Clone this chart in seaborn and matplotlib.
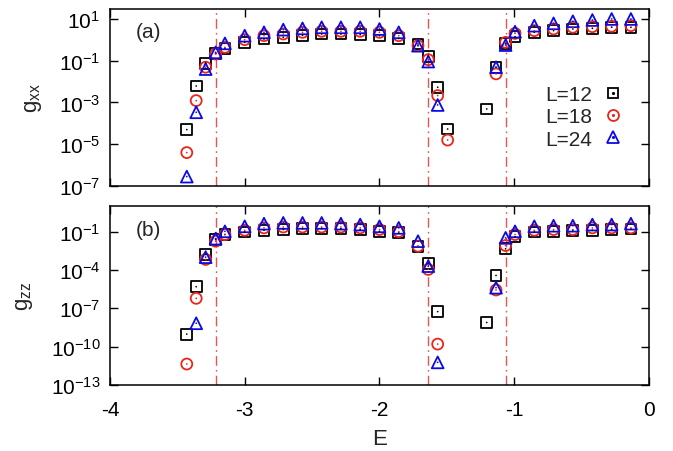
import numpy as np
import pandas as pd
import matplotlib
matplotlib.use("Agg")
import matplotlib.pyplot as plt
import seaborn as sns
from matplotlib.lines import Line2D
from matplotlib.legend_handler import HandlerTuple
from matplotlib.ticker import FixedLocator, LogFormatterSciNotation, NullLocator

# ---------------- data (log10 of g) ----------------
E_top = [-3.43, -3.36, -3.29, -3.216, -3.147, -3.0, -2.857, -2.714, -2.571, -2.429,
         -2.286, -2.143, -2.0, -1.857, -1.714, -1.638, -1.568, -1.494, -1.204, -1.135,
         -1.064, -0.994, -0.851, -0.708, -0.565, -0.42, -0.277, -0.134]
gxx_L12_exp = [-4.30, -2.21, -1.12, -0.64, -0.40, -0.12, 0.04, 0.12, 0.22, 0.28,
               0.28, 0.25, 0.20, 0.07, -0.20, -0.79, -2.27, -4.27, -3.31, -1.31,
               -0.17, 0.15, 0.36, 0.44, 0.52, 0.55, 0.60, 0.60]
gxx_L18_exp = [-5.40, -2.91, -1.31, -0.68, -0.36, 0.01, 0.20, 0.28, 0.36, 0.41,
               0.41, 0.41, 0.36, 0.20, -0.28, -0.95, -2.67, -4.80, np.nan, -1.63,
               -0.12, 0.31, 0.44, 0.52, 0.60, 0.63, 0.65, 0.68]
gxx_L24_exp = [-6.55, -3.47, -1.40, -0.60, -0.17, 0.20, 0.36, 0.49, 0.55, 0.60,
               0.60, 0.60, 0.52, 0.36, -0.28, -1.04, -3.12, np.nan, np.nan, -1.31,
               -0.25, 0.39, 0.68, 0.79, 0.89, 0.95, 1.00, 1.00]

E_bot = [-3.43, -3.36, -3.29, -3.216, -3.147, -3.0, -2.857, -2.714, -2.571, -2.429,
         -2.286, -2.143, -2.0, -1.857, -1.714, -1.638, -1.568, -1.204, -1.135,
         -1.064, -0.994, -0.851, -0.708, -0.565, -0.42, -0.277, -0.134]
gzz_L12_exp = [-9.02, -5.31, -2.79, -1.62, -1.23, -1.03, -0.90, -0.84, -0.77, -0.74,
               -0.77, -0.84, -0.98, -1.10, -2.14, -3.49, -7.26, -8.11, -4.43,
               -2.35, -1.41, -1.03, -0.98, -0.90, -0.90, -0.84, -0.79]
gzz_L18_exp = [-11.36, -6.22, -3.18, -1.75, -1.23, -0.90, -0.71, -0.64, -0.64, -0.64,
               -0.64, -0.71, -0.84, -1.00, -2.14, -3.96, -9.80, np.nan, -5.57,
               -2.09, -1.23, -0.90, -0.84, -0.84, -0.71, -0.71, -0.71]
gzz_L24_exp = [np.nan, -8.17, -3.00, -1.55, -0.98, -0.59, -0.38, -0.32, -0.32, -0.32,
               -0.38, -0.45, -0.59, -0.71, -1.75, -3.70, -11.23, np.nan, -5.39,
               -1.49, -0.98, -0.59, -0.54, -0.54, -0.45, -0.45, -0.38]

E_lines = [-3.216, -1.638, -1.064]
labels = ["L=12", "L=18", "L=24"]
colors = ["black", "#e8261c", "#0a0ae6"]
markers = ["s", "o", "^"]
sizes = [60, 62, 72]

top_yticks = [1e1, 1e-1, 1e-3, 1e-5, 1e-7]
bot_yticks = [1e-1, 1e-4, 1e-7, 1e-10, 1e-13]
xticks = [-4, -3, -2, -1, 0]

# ---------------- style ----------------
sns.set_style("ticks")
plt.rcParams["font.family"] = ["Liberation Sans", "DejaVu Sans"]
plt.rcParams["mathtext.fontset"] = "custom"
plt.rcParams["mathtext.rm"] = "Liberation Sans"
plt.rcParams["mathtext.it"] = "Liberation Sans:italic"

fig = plt.figure(figsize=(6.73, 4.52), dpi=100)
ax1 = fig.add_axes([0.1634, 0.5863, 0.8009, 0.3917])
ax2 = fig.add_axes([0.1634, 0.1460, 0.8009, 0.3960])


def draw(ax, E, series):
    for (exp_vals, lab, col, mk, sz) in zip(series, labels, colors, markers, sizes):
        df = pd.DataFrame({"E": E, "g": 10.0 ** np.array(exp_vals, dtype=float)})
        sns.scatterplot(data=df, x="E", y="g", ax=ax, marker=mk, s=sz,
                        facecolors="none", edgecolor=col, linewidth=1.3,
                        legend=False, zorder=3)
        sns.scatterplot(data=df, x="E", y="g", ax=ax, marker=".", s=6,
                        color=col, edgecolor="none", linewidth=0,
                        legend=False, zorder=4)
    for xv in E_lines:
        ax.axvline(xv, color="#e8413c", lw=1.0, ls=(0, (7, 3, 1.2, 3)), zorder=1, alpha=0.9)
    ax.set_yscale("log")
    ax.set_xlim(-4, 0)
    ax.xaxis.set_major_locator(FixedLocator(xticks))
    ax.xaxis.set_minor_locator(NullLocator())
    ax.yaxis.set_minor_locator(NullLocator())
    ax.tick_params(which="both", direction="in", top=True, right=True,
                   length=6, width=1.0, labelsize=15, colors="black")
    ax.tick_params(axis="x", pad=11)
    ax.tick_params(axis="y", pad=7)
    for sp in ax.spines.values():
        sp.set_linewidth(1.1)
        sp.set_color("black")
    ax.set_xlabel("")


draw(ax1, E_top, [gxx_L12_exp, gxx_L18_exp, gxx_L24_exp])
ax1.set_ylim(10 ** -7, 10 ** 1.48)
ax1.yaxis.set_major_locator(FixedLocator(top_yticks))
ax1.yaxis.set_major_formatter(LogFormatterSciNotation())
ax1.yaxis.set_minor_locator(NullLocator())
ax1.set_xticklabels([])
ax1.set_ylabel(r"g$_\mathregular{xx}$", fontsize=16, labelpad=11)
ax1.text(0.047, 0.87, "(a)", transform=ax1.transAxes, fontsize=15, ha="left", va="center")

draw(ax2, E_bot, [gzz_L12_exp, gzz_L18_exp, gzz_L24_exp])
ax2.set_ylim(1e-13, 1e1)
ax2.yaxis.set_major_locator(FixedLocator(bot_yticks))
ax2.yaxis.set_major_formatter(LogFormatterSciNotation())
ax2.yaxis.set_minor_locator(NullLocator())
ax2.set_xticklabels(["-4", "-3", "-2", "-1", "0"])
ax2.set_xlabel("E", fontsize=16, labelpad=6)
ax2.set_ylabel(r"g$_\mathregular{zz}$", fontsize=16, labelpad=11)
ax2.text(0.047, 0.87, "(b)", transform=ax2.transAxes, fontsize=15, ha="left", va="center")

# legend (text first, marker after, gnuplot-like)
handles = []
for col, mk, sz in zip(colors, markers, sizes):
    h_open = Line2D([], [], ls="none", marker=mk, markersize=np.sqrt(sz),
                    markerfacecolor="none", markeredgecolor=col, markeredgewidth=1.3)
    h_dot = Line2D([], [], ls="none", marker=".", markersize=2.5, color=col)
    handles.append((h_open, h_dot))
ax1.legend(handles, labels, handler_map={tuple: HandlerTuple(ndivide=1)},
           loc="center right", bbox_to_anchor=(0.983, 0.39), frameon=False,
           markerfirst=False, fontsize=15, handletextpad=0.4, labelspacing=0.15,
           handlelength=1.2, borderpad=0.2)

fig.savefig("out.png", dpi=100)
